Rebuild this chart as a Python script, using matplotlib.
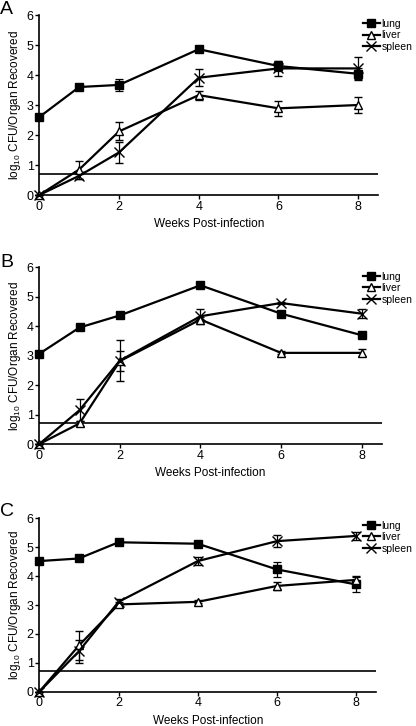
import matplotlib
matplotlib.use("Agg")
import matplotlib.pyplot as plt
from matplotlib.lines import Line2D

plt.rcParams['font.family'] = ['Liberation Sans', 'DejaVu Sans']
plt.rcParams['mathtext.fontset'] = 'custom'
plt.rcParams['mathtext.rm'] = 'Liberation Sans'

weeks = [0, 1, 2, 4, 6, 8]
detection_limit = 0.7

# panel A
a_lung = [2.6, 3.6, 3.67, 4.86, 4.3, 4.04]
a_lung_err = [0, 0, 0.2, 0.05, 0.18, 0.18]
a_liver = [0, 0.85, 2.12, 3.33, 2.89, 3.0]
a_liver_err = [0, 0.3, 0.3, 0.15, 0.25, 0.27]
a_spleen = [0, 0.64, 1.42, 3.91, 4.22, 4.22]
a_spleen_err = [0, 0.1, 0.36, 0.28, 0.25, 0.37]

# panel B
b_lung = [3.06, 3.95, 4.36, 5.38, 4.42, 3.69]
b_lung_err = [0, 0, 0, 0, 0, 0]
b_liver = [0, 0.7, 2.81, 4.22, 3.09, 3.09]
b_liver_err = [0, 0.08, 0.35, 0.1, 0.05, 0.12]
b_spleen = [0, 1.15, 2.83, 4.33, 4.78, 4.42]
b_spleen_err = [0, 0.36, 0.7, 0.25, 0.05, 0.15]

# panel C
c_lung = [4.52, 4.61, 5.17, 5.12, 4.23, 3.71]
c_lung_err = [0, 0, 0, 0, 0.27, 0.25]
c_liver = [0, 1.6, 3.02, 3.11, 3.66, 3.87]
c_liver_err = [0, 0.5, 0.08, 0.05, 0.15, 0.15]
c_spleen = [0, 1.4, 3.11, 4.52, 5.21, 5.39]
c_spleen_err = [0, 0.4, 0.1, 0.15, 0.2, 0.15]

panels = [
    ("A", a_lung, a_lung_err, a_liver, a_liver_err, a_spleen, a_spleen_err,
     [0.0945, 0.7314, 0.8145, 0.2479], 0.974),
    ("B", b_lung, b_lung_err, b_liver, b_liver_err, b_spleen, b_spleen_err,
     [0.0945, 0.3884, 0.8230, 0.2438], 0.626),
    ("C", c_lung, c_lung_err, c_liver, c_liver_err, c_spleen, c_spleen_err,
     [0.0945, 0.0472, 0.8095, 0.2389], 0.283),
]

fig = plt.figure(figsize=(4.16, 7.26), dpi=100)

lung_style = dict(marker='s', ms=5.5, mfc='black', mec='black')
liver_style = dict(marker='^', ms=6, mfc='white', mec='black', mew=1.0)
spleen_style = dict(marker='x', ms=7, mec='black', mew=1.0)

for letter, lung, lung_e, liver, liver_e, spleen, spleen_e, pos, legy in panels:
    ax = fig.add_axes(pos)
    ax.axhline(detection_limit, color='black', lw=1.2, zorder=1)
    kw = dict(color='black', lw=1.6, elinewidth=0.9, capsize=3, capthick=0.9,
              clip_on=False, zorder=3)
    h1 = ax.errorbar(weeks, lung, yerr=lung_e, **lung_style, **kw)
    h2 = ax.errorbar(weeks, liver, yerr=liver_e, **liver_style, **kw)
    h3 = ax.errorbar(weeks, spleen, yerr=spleen_e, **spleen_style, **kw)
    for h in (h1, h2, h3):
        for c in h.lines[1] + h.lines[2]:
            c.set_clip_on(False)

    ax.set_xlim(0, 8.5)
    ax.set_ylim(0, 6)
    ax.set_xticks([0, 2, 4, 6, 8])
    ax.set_yticks(range(7))
    ax.spines['top'].set_visible(False)
    ax.spines['right'].set_visible(False)
    for s in ('left', 'bottom'):
        ax.spines[s].set_linewidth(1.2)
    ax.tick_params(direction='out', length=3, width=1.0, labelsize=9, pad=1)
    ax.set_xlabel('Weeks Post-infection', fontsize=8.5, labelpad=4)
    ax.set_ylabel(r'log$_{10}$ CFU/Organ Recovered', fontsize=8.5, labelpad=3)

    handles = [Line2D([], [], color='black', lw=1.6, **lung_style),
               Line2D([], [], color='black', lw=1.6, **liver_style),
               Line2D([], [], color='black', lw=1.6, **spleen_style)]
    ax.legend(handles, ['lung', 'liver', 'spleen'], loc='upper left',
              bbox_to_anchor=(363 / 416, legy), bbox_transform=fig.transFigure,
              frameon=False, fontsize=7.5, handlelength=1.6,
              handletextpad=0.2, labelspacing=0.15, borderpad=0,
              borderaxespad=0)

    fig.text(0.0, legy + 0.024, letter, fontsize=14, va='top', ha='left')

fig.savefig('out.png', dpi=100)
